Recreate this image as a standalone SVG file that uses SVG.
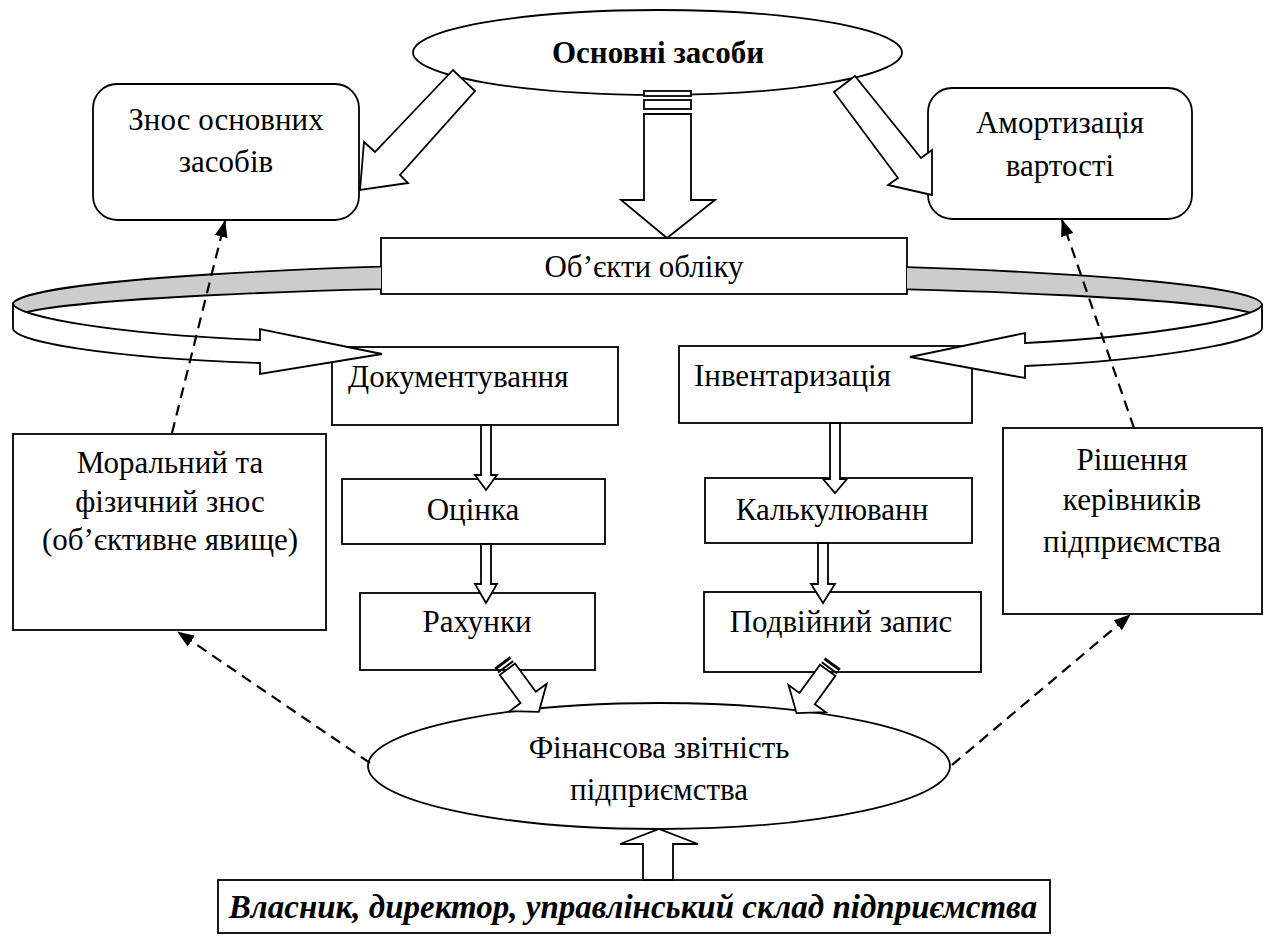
<svg xmlns="http://www.w3.org/2000/svg" width="1270" height="936" viewBox="0 0 1270 936">
<defs>
<style>
.box{fill:#fff;stroke:#000;stroke-width:1.8}
.blk{fill:#fff;stroke:#000;stroke-width:1.8;stroke-linejoin:miter}
.dash{fill:none;stroke:#000;stroke-width:2.2;stroke-dasharray:11 7;marker-end:url(#ah)}
.band{fill:#cccccc;stroke:#000;stroke-width:1.8}
</style>
<marker id="ah" markerUnits="userSpaceOnUse" markerWidth="17" markerHeight="13" refX="16" refY="6.5" orient="auto"><path d="M0,0 L17,6.5 L0,13 Z" fill="#000"/></marker>
<clipPath id="outside"><rect x="0" y="0" width="381" height="936"/><rect x="907" y="0" width="363" height="936"/></clipPath>
<g id="sarrow">
<rect x="0" y="-9.5" width="3" height="19" fill="#000"/>
<rect x="5" y="-9.5" width="2" height="19" fill="#000"/>
<path class="blk" d="M9,-9.5 L44,-9.5 L44,-23 L62,0 L44,23 L44,9.5 L9,9.5 Z"/>
</g>
</defs>
<rect width="1270" height="936" fill="#fff"/>

<g id="node-osnovni">
<ellipse class="box" cx="657.5" cy="52.5" rx="244.5" ry="42.5"/>
<text x="658" y="63" font-family="Liberation Serif" font-size="31" font-weight="bold" text-anchor="middle">Основні засоби</text>
</g>
<g id="node-znos">
<rect class="box" x="93" y="84" width="266" height="136" rx="24"/>
<text x="226" y="130" font-family="Liberation Serif" font-size="31" text-anchor="middle">Знос основних</text>
<text x="226" y="172" font-family="Liberation Serif" font-size="31" text-anchor="middle">засобів</text>
</g>
<g id="node-amort">
<rect class="box" x="928" y="88" width="264" height="131" rx="24"/>
<text x="1060" y="133" font-family="Liberation Serif" font-size="31" text-anchor="middle">Амортизація</text>
<text x="1060" y="176" font-family="Liberation Serif" font-size="31" text-anchor="middle">вартості</text>
</g>
<g id="node-obekty">
<rect class="box" x="381" y="238" width="526" height="56"/>
<text x="644" y="277" font-family="Liberation Serif" font-size="31" text-anchor="middle">Об’єкти обліку</text>
</g>
<g id="node-dokum">
<rect class="box" x="332" y="347" width="286" height="78"/>
<text x="348" y="387" font-family="Liberation Serif" font-size="31">Документування</text>
</g>
<g id="node-inv">
<rect class="box" x="679" y="346" width="293" height="77"/>
<text x="694" y="386" font-family="Liberation Serif" font-size="31">Інвентаризація</text>
</g>
<g id="node-moral">
<rect class="box" x="13" y="434" width="313" height="196"/>
<text x="170" y="473" font-family="Liberation Serif" font-size="31" text-anchor="middle">Моральний та</text>
<text x="170" y="512" font-family="Liberation Serif" font-size="31" text-anchor="middle">фізичний знос</text>
<text x="170" y="550" font-family="Liberation Serif" font-size="31" text-anchor="middle">(об’єктивне явище)</text>
</g>
<g id="node-rishennia">
<rect class="box" x="1003" y="428" width="259" height="186"/>
<text x="1132" y="470" font-family="Liberation Serif" font-size="31" text-anchor="middle">Рішення</text>
<text x="1132" y="510" font-family="Liberation Serif" font-size="31" text-anchor="middle">керівників</text>
<text x="1132" y="552" font-family="Liberation Serif" font-size="31" text-anchor="middle">підприємства</text>
</g>
<g id="node-otsinka">
<rect class="box" x="342" y="479" width="263" height="65"/>
<text x="473" y="520" font-family="Liberation Serif" font-size="31" text-anchor="middle">Оцінка</text>
</g>
<g id="node-kalk">
<rect class="box" x="705" y="478" width="267" height="65"/>
<text x="832" y="520" font-family="Liberation Serif" font-size="31" text-anchor="middle">Калькулюванн</text>
</g>
<g id="node-rakhunky">
<rect class="box" x="360" y="593" width="235" height="77"/>
<text x="477" y="632" font-family="Liberation Serif" font-size="31" text-anchor="middle">Рахунки</text>
</g>
<g id="node-podviinyi">
<rect class="box" x="704" y="592" width="277" height="80"/>
<text x="841" y="632" font-family="Liberation Serif" font-size="31" text-anchor="middle">Подвійний запис</text>
</g>
<g id="node-fin">
<ellipse class="box" cx="659" cy="766" rx="291" ry="63"/>
<text x="659" y="758" font-family="Liberation Serif" font-size="31" text-anchor="middle">Фінансова звітність</text>
<text x="659" y="800" font-family="Liberation Serif" font-size="31" text-anchor="middle">підприємства</text>
</g>
<g id="node-vlasnyk">
<rect class="box" x="218" y="880" width="832" height="53"/>
<text x="633" y="918" font-family="Liberation Serif" font-size="33" font-weight="bold" font-style="italic" text-anchor="middle">Власник, директор, управлінський склад підприємства</text>
</g>

<g id="connectors">
<path class="band" clip-path="url(#outside)" d="M13,303 A625,42 0 0 1 1262,304 L1262,318 A625,33 0 0 0 13,318 Z"/>
<path class="blk" d="M13,303 C13,316 110,334 260,340 L260,329 L382,354 L260,374 L260,363 C110,358 13,342 13,328 Z"/>
<path class="blk" d="M1262,304 C1262,318 1150,337 1025,343 L1025,333 L910,357 L1025,378 L1025,366 C1150,361 1262,342 1262,328 Z"/>
<polygon class="blk" points="453,70 375,152 364,142 360,190 408,183 400,175 475,91"/>
<polygon class="blk" points="855,76 921,158 932,150 932,195 888,185 898,178 834,92"/>
<rect class="box" x="644" y="91" width="47" height="5"/>
<rect class="box" x="644" y="100" width="47" height="9"/>
<polygon class="blk" points="644,114 691,114 691,200 715,200 667,238 621,200 644,200"/>
<polygon class="blk" points="481,425 491,425 491,475 497,475 486,490 475,475 481,475"/>
<polygon class="blk" points="481,544 491,544 491,584 497,584 486,603 475,584 481,584"/>
<polygon class="blk" points="830,423 840,423 840,479 847,479 835,493 823,479 830,479"/>
<polygon class="blk" points="818,543 828,543 828,584 835,584 823,603 811,584 818,584"/>
<use href="#sarrow" transform="translate(502,662) rotate(53.5)"/>
<use href="#sarrow" transform="translate(833,663) rotate(126)"/>
<polygon class="blk" points="643,880 643,844 620,844 659,829 698,844 673,844 673,880"/>
<line class="dash" x1="370" y1="763" x2="178" y2="632"/>
<line class="dash" x1="172" y1="433" x2="225" y2="221"/>
<line class="dash" x1="952" y1="765" x2="1130" y2="615"/>
<line class="dash" x1="1134" y1="428" x2="1062" y2="220"/>
</g>
</svg>
